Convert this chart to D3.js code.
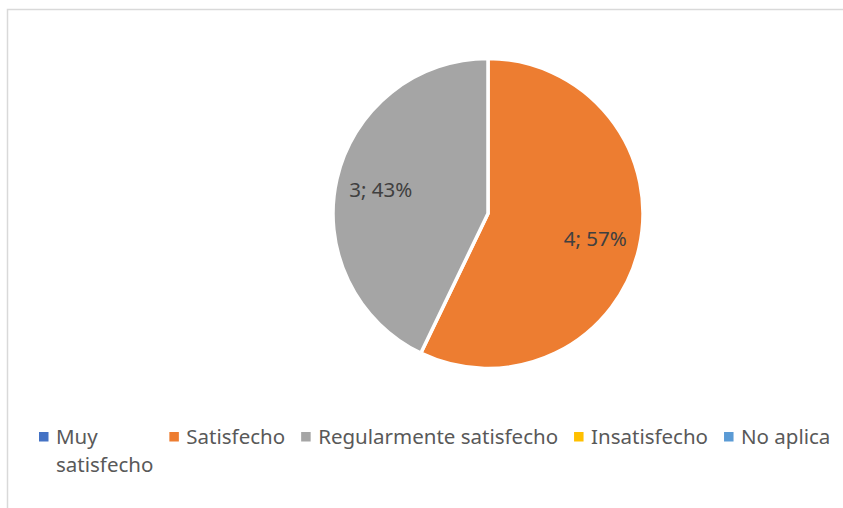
<!DOCTYPE html>
<html>
<head>
<meta charset="utf-8">
<script src="https://cdn.jsdelivr.net/npm/d3@7"></script>
<style>
  body { margin: 0; background: #fff; }
  svg { display: block; font-family: "Noto Sans", sans-serif; }
</style>
</head>
<body>
<div id="chart"></div>
<script>
const categories = ["Muy satisfecho", "Satisfecho", "Regularmente satisfecho", "Insatisfecho", "No aplica"];
const counts = [0, 4, 3, 0, 0];
const legendLines = [["Muy", "satisfecho"], ["Satisfecho"], ["Regularmente satisfecho"], ["Insatisfecho"], ["No aplica"]];
const colors = ["#4472C4", "#ED7D31", "#A5A5A5", "#FFC000", "#5B9BD5"];

const width = 843, height = 508;
const cx = 488, cy = 213.5, radius = 155;

const svg = d3.select("#chart").append("svg")
    .attr("width", width)
    .attr("height", height);

// chart frame (only top and left edges fall inside the picture)
svg.append("rect")
    .attr("x", 7.5)
    .attr("y", 9.5)
    .attr("width", 1000)
    .attr("height", 1000)
    .attr("fill", "none")
    .attr("stroke", "#d9d9d9")
    .attr("stroke-width", 1.5);

const data = categories.map((c, i) => ({ name: c, value: counts[i], color: colors[i], lines: legendLines[i] }));
const total = d3.sum(counts);

const pie = d3.pie().sort(null).value(d => d.value);
const arc = d3.arc().innerRadius(0).outerRadius(radius);
const labelArc = d3.arc().innerRadius(110).outerRadius(110);

const g = svg.append("g").attr("transform", `translate(${cx},${cy})`);
const arcs = pie(data).filter(d => d.data.value > 0);

g.selectAll("path.slice")
    .data(arcs)
    .join("path")
    .attr("class", "slice")
    .attr("d", arc)
    .attr("fill", d => d.data.color)
    .attr("stroke", "#fff")
    .attr("stroke-width", 3.5)
    .attr("stroke-linejoin", "round");

g.selectAll("text.lbl")
    .data(arcs)
    .join("text")
    .attr("class", "lbl")
    .attr("transform", d => `translate(${labelArc.centroid(d)})`)
    .attr("text-anchor", "middle")
    .attr("dominant-baseline", "central")
    .attr("fill", "#404040")
    .attr("font-size", 20.5)
    .text(d => `${d.data.value}; ${Math.round(d.data.value / total * 100)}%`);

// legend, laid out left to right from measured text widths
const legend = svg.append("g").attr("class", "legend");
let lx = 39;
const ly = 444;
data.forEach(d => {
    const item = legend.append("g");
    item.append("rect")
        .attr("x", lx)
        .attr("y", ly - 12)
        .attr("width", 9.5)
        .attr("height", 9.5)
        .attr("fill", d.color);
    const t = item.append("text")
        .attr("fill", "#595959")
        .attr("font-size", 20.5);
    d.lines.forEach((line, j) => {
        t.append("tspan")
            .attr("x", lx + 17)
            .attr("y", ly + j * 28)
            .text(line);
    });
    let w = 0;
    t.selectAll("tspan").each(function() { w = Math.max(w, this.getComputedTextLength()); });
    lx += 17 + w + 16;
});
</script>
</body>
</html>
